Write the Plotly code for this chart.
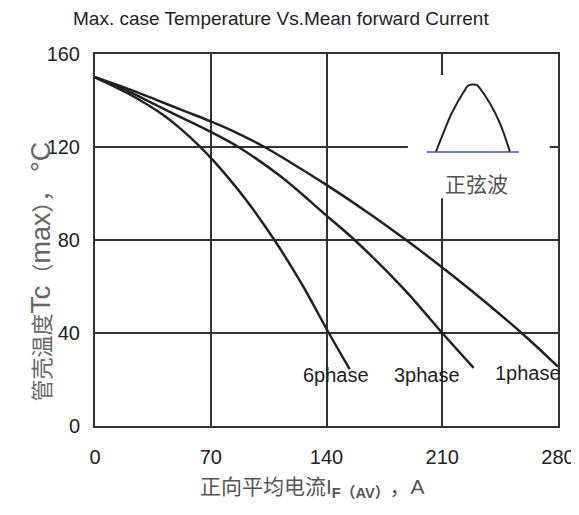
import plotly.graph_objects as go

# Data
i_1phase = [0, 20, 37, 55, 70, 86, 102.5, 120, 140, 166, 190, 210, 227, 258, 280]
t_1phase = [150, 145, 140.3, 135.2, 131, 126, 120, 112.6, 103.7, 91.3, 79, 68.2, 58.6, 40, 25.5]

i_3phase = [0, 20, 37, 51.4, 70, 86.7, 112, 140, 157, 187, 210, 229]
t_3phase = [150, 144, 138, 133, 126.5, 120, 107.5, 90.5, 80, 58.8, 40, 25]

i_6phase = [0, 20, 40, 52, 63, 72, 90, 108.5, 125, 141.4, 154]
t_6phase = [150, 143, 134.4, 127.7, 120.5, 113.8, 98.5, 80, 61.1, 40, 24.5]

x_ticks = [0, 70, 140, 210, 280]
y_ticks = [0, 40, 80, 120, 160]

# inset sine-wave icon
hump_x = [206.2, 210.6, 215.7, 223.7, 225.7, 230.8, 232.8, 238.8, 244.9, 250.9]
hump_y = [118.0, 125.9, 134.5, 144.5, 146.4, 146.7, 145.2, 138.8, 130.2, 118.0]
base_x = [200.7, 256.3]
base_y = [117.8, 117.8]

labels = ["6phase", "3phase", "1phase"]
label_x = [146, 201, 262]
label_y = [22, 22, 23]

FONT = "Liberation Sans, Arial, Noto Sans CJK SC, sans-serif"
line_style = dict(color="#222222", width=2.5)

fig = go.Figure()
for xs, ys in [(i_1phase, t_1phase), (i_3phase, t_3phase), (i_6phase, t_6phase)]:
    fig.add_trace(go.Scatter(x=xs, y=ys, mode="lines",
                             line=dict(shape="spline", smoothing=1.0, **line_style),
                             hoverinfo="skip", showlegend=False))

fig.add_trace(go.Scatter(x=base_x, y=base_y, mode="lines", line=dict(color="#4a55a0", width=1.5),
                         showlegend=False, hoverinfo="skip"))
fig.add_trace(go.Scatter(x=hump_x, y=hump_y, mode="lines",
                         line=dict(color="#222222", width=2, shape="spline"),
                         showlegend=False, hoverinfo="skip"))

# white background behind the inset icon (hides gridlines)
fig.add_shape(type="rect", x0=189.2, x1=275, y0=98, y1=151, xref="x", yref="y",
              fillcolor="white", line=dict(width=0), layer="between")

for t, x, y in zip(labels, label_x, label_y):
    fig.add_annotation(x=x, y=y, text=t, showarrow=False, xref="x", yref="y",
                       font=dict(family=FONT, size=20, color="#222222"))

fig.add_annotation(x=231, y=103.7, text="正弦波", showarrow=False, xref="x", yref="y",
                   font=dict(family=FONT, size=21, color="#555555"))

fig.add_annotation(x=-0.1555, y=0.414, xref="paper", yref="paper", textangle=-90,
                   text="管壳温度<span style='font-size:28px'>Tc</span>（<span style='font-size:27px'>max</span>），"
                        "<span style='font-size:27px'> °C</span>",
                   showarrow=False,
                   font=dict(family=FONT, size=22, color="#666666"))

fig.add_annotation(x=0.469, y=-0.207, xref="paper", yref="paper",
                   text="正向平均电流I<sub><b>F（AV）</b></sub>，A", showarrow=False,
                   font=dict(family=FONT, size=21, color="#555555"))

fig.add_annotation(x=0.402, y=1.0954, xref="paper", yref="paper", xanchor="center", yanchor="middle",
                   text="Max. case Temperature Vs.Mean forward Current", showarrow=False,
                   font=dict(family=FONT, size=19, color="#222222"))

# page body has an 8px margin: figure sized so it fits the window and the plot area
# lands at x 95-558, y 54-426
fig.update_layout(
    width=571, height=507,
    margin=dict(l=87, r=21, t=46, b=89, autoexpand=False),
    paper_bgcolor="white", plot_bgcolor="white",
    xaxis=dict(range=[0, 280], tickvals=x_ticks, ticks="", showgrid=True, gridcolor="#333333", gridwidth=1.5,
               showline=True, linecolor="#333333", linewidth=2, mirror=True, zeroline=False,
               automargin=False,
               tickfont=dict(family=FONT, size=20, color="#222222"), ticklabelstandoff=12),
    yaxis=dict(range=[0, 160], tickvals=y_ticks, ticks="", showgrid=True, gridcolor="#333333", gridwidth=1.5,
               showline=True, linecolor="#333333", linewidth=2, mirror=True, zeroline=False,
               automargin=False,
               tickfont=dict(family=FONT, size=20, color="#222222"), ticklabelstandoff=9),
)

fig.write_html("out.html")
